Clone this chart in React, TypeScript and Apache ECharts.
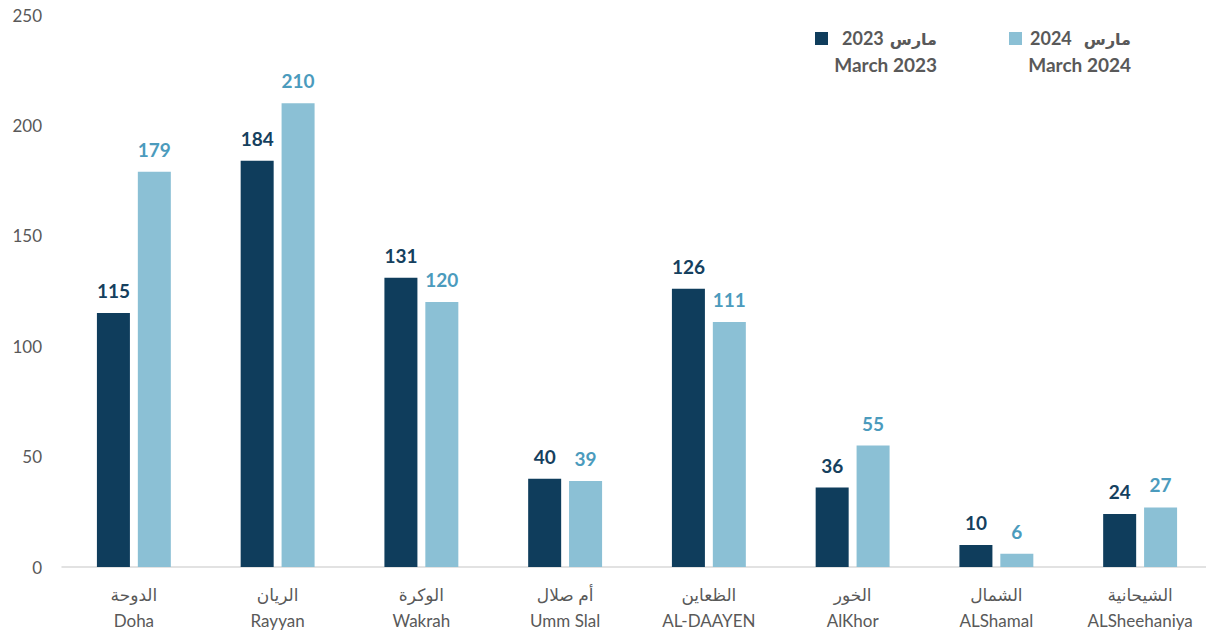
import React, { useEffect, useRef } from "react";
import * as echarts from "echarts";

const categoriesAr = ["الدوحة", "الريان", "الوكرة", "أم صلال", "الظعاين", "الخور", "الشمال", "الشيحانية"];
const categoriesEn = ["Doha", "Rayyan", "Wakrah", "Umm Slal", "AL-DAAYEN", "AlKhor", "ALShamal", "ALSheehaniya"];
const march2023 = [115, 184, 131, 40, 126, 36, 10, 24];
const march2024 = [179, 210, 120, 39, 111, 55, 6, 27];
const yTicks = { min: 0, max: 250, interval: 50 };
const legendYears = ["2023", "2024"];
const legendArabicWord = "مارس";
const legendEnglish = ["March 2023", "March 2024"];

const FONT = "Lato, 'DejaVu Sans', sans-serif";
const DARK = "#0f3d5c";
const LIGHT = "#8bc0d5";

export default function App() {
  const ref = useRef<HTMLDivElement>(null);
  useEffect(() => {
    if (!ref.current) return;
    const chart = echarts.init(ref.current, undefined, { renderer: "svg" });
    const cats = categoriesAr.map((a, i) => a + "\n" + categoriesEn[i]);
    const legendItem = (x: number, color: string, i: number, gap: number) => ({
      type: "group",
      children: [
        { type: "rect", shape: { x: x, y: 32, width: 13, height: 13 }, style: { fill: color } },
        {
          type: "text",
          style: {
            x: x + 122,
            y: 38,
            text: "{n|" + legendYears[i] + "}{s|}{a|" + legendArabicWord + "}",
            align: "right",
            verticalAlign: "middle",
            font: "bold 18px " + FONT,
            fill: "#595959",
            rich: {
              n: { font: "bold 18px " + FONT, fill: "#595959" },
              s: { width: gap },
              a: { font: "bold 16px " + FONT, fill: "#595959" },
            },
          },
        },
        {
          type: "text",
          style: {
            x: x + 122,
            y: 64,
            text: legendEnglish[i],
            align: "right",
            verticalAlign: "middle",
            font: "bold 19px " + FONT,
            fill: "#595959",
          },
        },
      ],
    });
    chart.setOption({
      animation: false,
      grid: { left: 62, right: 0, top: 15, bottom: 65 },
      xAxis: {
        type: "category",
        data: cats,
        axisLine: { lineStyle: { color: "#d9d9d9", width: 1.5 } },
        axisTick: { show: false },
        axisLabel: {
          color: "#595959",
          fontSize: 17,
          fontFamily: FONT,
          lineHeight: 26,
          margin: 14,
          interval: 0,
        },
      },
      yAxis: {
        type: "value",
        min: yTicks.min,
        max: yTicks.max,
        interval: yTicks.interval,
        splitLine: { show: false },
        axisLine: { show: false },
        axisTick: { show: false },
        axisLabel: { color: "#595959", fontSize: 17, fontFamily: FONT, margin: 20 },
      },
      series: [
        {
          name: "March 2023",
          type: "bar",
          data: march2023,
          barWidth: 33,
          barGap: "24%",
          itemStyle: { color: DARK },
          label: {
            show: true,
            position: "top",
            distance: 13,
            color: "#15405e",
            fontWeight: "bold",
            fontSize: 19,
            fontFamily: FONT,
          },
        },
        {
          name: "March 2024",
          type: "bar",
          data: march2024,
          barWidth: 33,
          itemStyle: { color: LIGHT },
          label: {
            show: true,
            position: "top",
            distance: 13,
            color: "#4b9bbd",
            fontWeight: "bold",
            fontSize: 19,
            fontFamily: FONT,
          },
        },
      ],
      graphic: [legendItem(815, DARK, 0, 6), legendItem(1009, LIGHT, 1, 12)],
    });
    return () => chart.dispose();
  }, []);
  return (
    <div
      style={{ position: "absolute", left: 0, top: 0, width: 1206, height: 633, overflow: "hidden", background: "#fff" }}
    >
      <div ref={ref} style={{ width: 1212, height: 633 }} />
    </div>
  );
}
